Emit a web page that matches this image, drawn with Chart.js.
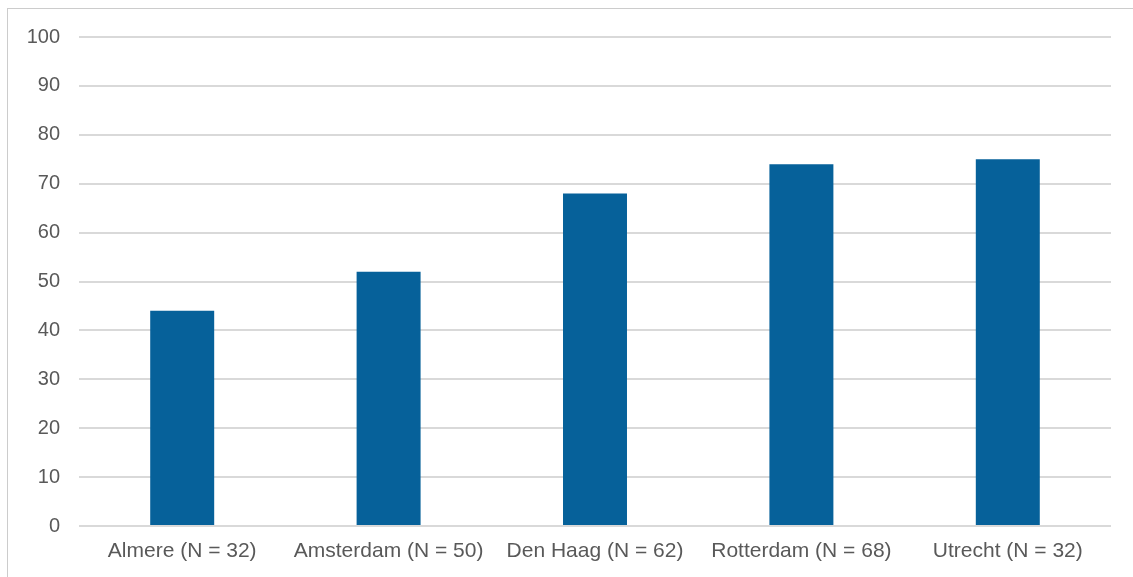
<!DOCTYPE html>
<html>
<head>
<meta charset="utf-8">
<script src="https://cdn.jsdelivr.net/npm/chart.js@4"></script>
<style>
  html, body { margin: 0; padding: 0; background: #fff; }
  .wrap { position: relative; width: 1133px; height: 577px; overflow: hidden; }
  .frame { position: absolute; left: 7px; top: 8px; width: 1200px; height: 700px; border: 1px solid #cccccc; }
  canvas { position: absolute; left: 0; top: 0; }
</style>
</head>
<body>
<div class="wrap">
  <div class="frame"></div>
  <canvas id="cityChart" width="1133" height="577"></canvas>
</div>
<script>
const categories = ["Almere (N = 32)", "Amsterdam (N = 50)", "Den Haag (N = 62)", "Rotterdam (N = 68)", "Utrecht (N = 32)"];
const values = [44, 52, 68, 74, 75];
const yTicks = [0, 10, 20, 30, 40, 50, 60, 70, 80, 90, 100];

const ctx = document.getElementById("cityChart");

new Chart(ctx, {
  type: "bar",
  data: {
    labels: categories,
    datasets: [
      {
        data: values,
        backgroundColor: "#06619a",
        barPercentage: 0.31,
        categoryPercentage: 1,
      },
    ],
  },
  options: {
    responsive: false,
    animation: false,
    layout: { padding: { left: 0, right: 22, top: 37, bottom: 0 } },
    plugins: {
      legend: { display: false },
      tooltip: { enabled: false },
    },
    scales: {
      y: {
        min: 0,
        max: 100,
        afterFit: (scale) => { scale.width = 79; },
        afterBuildTicks: (scale) => { scale.ticks = yTicks.map((v) => ({ value: v })); },
        ticks: {
          color: "#595959",
          padding: 19,
          font: { family: "Liberation Sans, Arial", size: 20 },
        },
        grid: { color: "#d9d9d9", lineWidth: 2, drawTicks: false },
        border: { display: false },
      },
      x: {
        afterFit: (scale) => { scale.height = 51; },
        ticks: {
          color: "#595959",
          padding: 13,
          maxRotation: 0,
          autoSkip: false,
          font: { family: "Liberation Sans, Arial", size: 21 },
        },
        grid: { display: false, drawTicks: false },
        border: { display: false },
      },
    },
  },
});
</script>
</body>
</html>
